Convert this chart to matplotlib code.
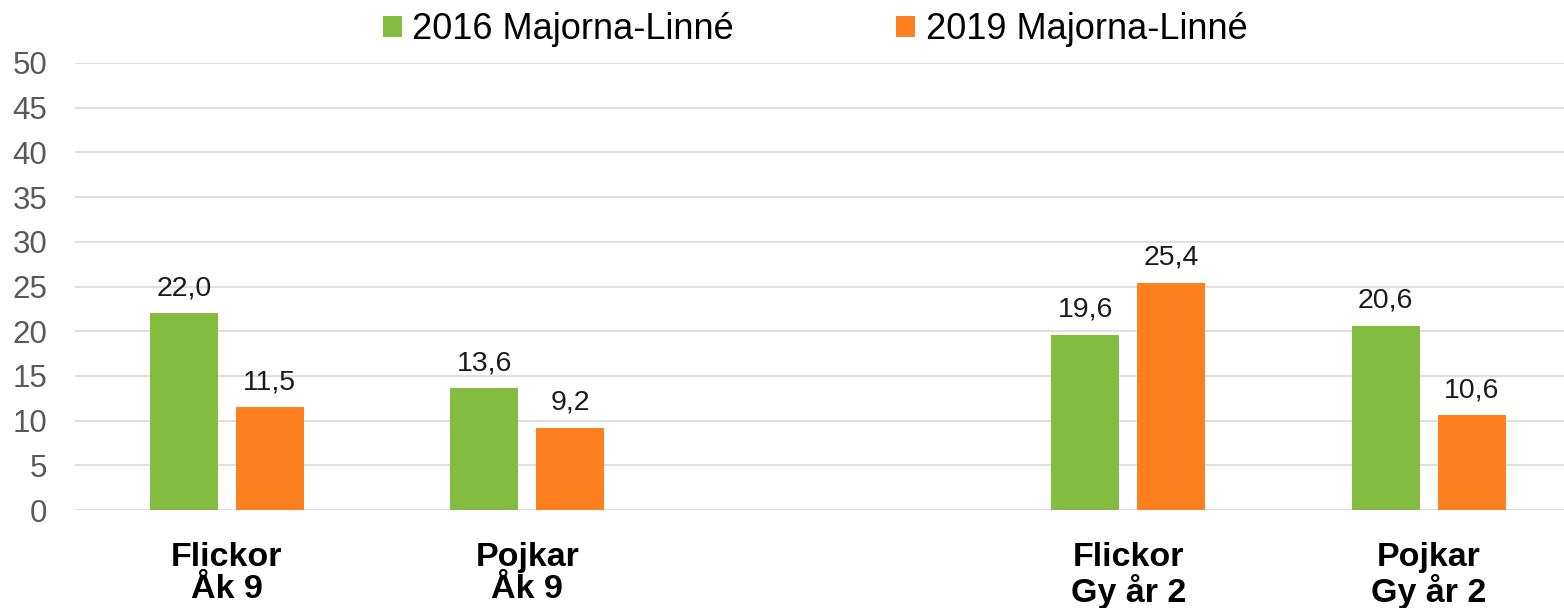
import numpy as np
import matplotlib.pyplot as plt

# Data
categories = ["Flickor\nÅk 9", "Pojkar\nÅk 9", "", "Flickor\nGy år 2", "Pojkar\nGy år 2"]
values_2016 = [22.0, 13.6, np.nan, 19.6, 20.6]
values_2019 = [11.5, 9.2, np.nan, 25.4, 10.6]
series_names = ["2016 Majorna-Linné", "2019 Majorna-Linné"]
yticks = [0, 5, 10, 15, 20, 25, 30, 35, 40, 45, 50]

green = "#83BC41"
orange = "#FD7F1D"

plt.rcParams["font.family"] = ["Liberation Sans", "DejaVu Sans"]

fig = plt.figure(figsize=(15.64, 6.08), dpi=100)
W, H = 1564, 608
ax = fig.add_axes([75 / W, 98 / H, (W - 75) / W, 447 / H])

x = np.arange(len(categories))
offset = 0.143
width = 0.225

b1 = ax.bar(x - offset, values_2016, width, color=green, label=series_names[0], zorder=3)
b2 = ax.bar(x + offset, values_2019, width, color=orange, label=series_names[1], zorder=3)

for bars, vals in [(b1, values_2016), (b2, values_2019)]:
    for rect, v in zip(bars, vals):
        if np.isnan(v):
            continue
        ax.annotate(f"{v:.1f}".replace(".", ","),
                    (rect.get_x() + rect.get_width() / 2, v),
                    xytext=(0, 13), textcoords="offset points",
                    ha="center", va="baseline", fontsize=20.5, color="#1a1a1a")

ax.set_xlim(-0.505, -0.505 + (W - 75) / 300.5)
ax.set_ylim(0, 50)
ax.set_yticks(yticks)
ax.set_xticks(x)
ax.set_xticklabels(categories, fontsize=24.5, fontweight="bold", linespacing=1.05)
ax.tick_params(axis="x", length=0, pad=23)
ax.tick_params(axis="y", length=0, pad=20, labelsize=22.5, labelcolor="#595959")

ax.grid(axis="y", color="#D9D9D9", linewidth=1.2, zorder=0)
ax.set_axisbelow(True)
for s in ax.spines.values():
    s.set_visible(False)

fig.legend(handles=[b1, b2], labels=series_names, loc="upper center",
           bbox_to_anchor=(815 / W, 1.0 + 2 / H), ncol=2, frameon=False,
           fontsize=26, handlelength=0.53, handleheight=0.53,
           handletextpad=0.28, columnspacing=4.5, borderaxespad=0.0)

fig.savefig("out.png", dpi=100)
